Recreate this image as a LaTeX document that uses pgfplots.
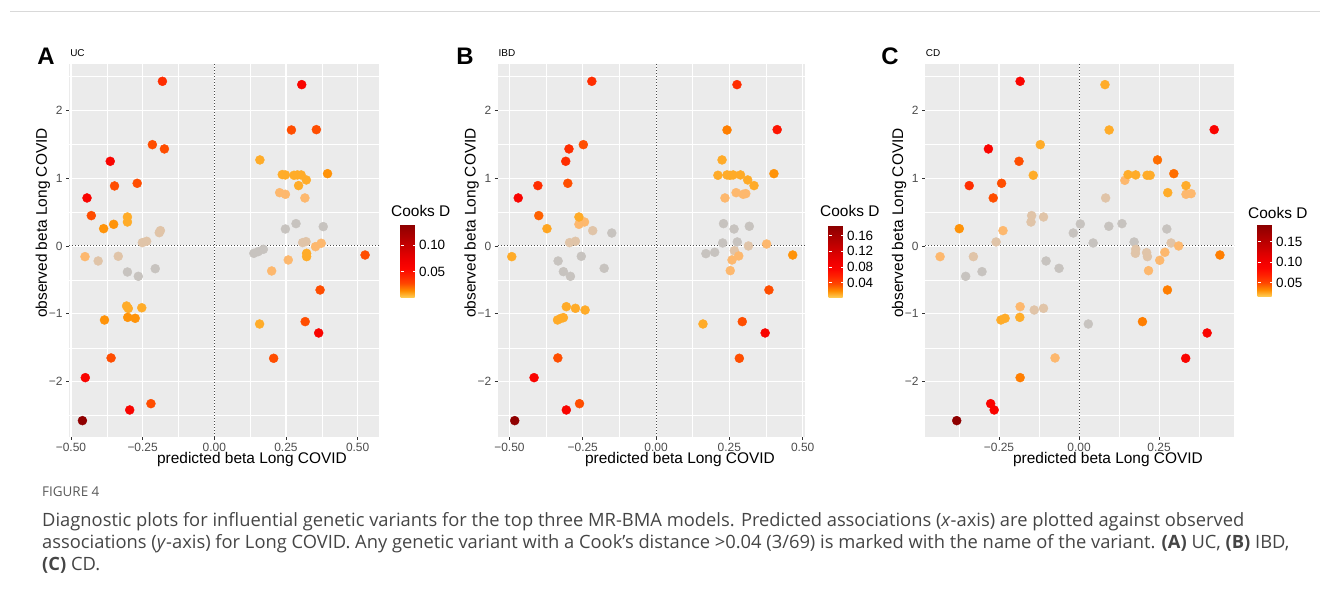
\documentclass[border=0pt]{standalone}
\usepackage{pgfplots}
\pgfplotsset{compat=1.18}
\usepackage{pgfplotstable}
\usepackage{fontspec}
\setmainfont{Liberation Sans}
\newfontfamily\capfont{Open Sans}
\definecolor{ggbg}{HTML}{EBEBEB}
\definecolor{gg20}{HTML}{333333}
\definecolor{gg30}{HTML}{4D4D4D}
\definecolor{ptG}{RGB}{199,195,191}
\definecolor{ptE}{RGB}{224,196,168}
\definecolor{ptP}{RGB}{253,184,110}
\definecolor{capgray}{HTML}{454545}

% ---------- data: x = predicted beta, y = observed beta, d = Cook's D ----------
\pgfplotstableread{
x y d
-0.181 2.425 0.038
0.305 2.376 0.059
0.269 1.708 0.0266
0.356 1.713 0.0266
-0.363 1.247 0.059
-0.216 1.492 0.0266
-0.174 1.429 0.0266
-0.348 0.884 0.0266
-0.269 0.923 0.0266
-0.444 0.707 0.059
-0.429 0.447 0.0266
-0.386 0.255 0.0126
-0.351 0.319 0.0126
-0.303 0.427 0.0077
-0.303 0.353 0.0077
0.159 1.267 0.0077
0.237 1.051 0.0077
0.248 1.046 0.0077
0.278 1.041 0.0077
0.290 1.046 0.0077
0.303 1.046 0.0077
0.321 0.972 0.0077
0.294 0.889 0.0077
0.395 1.065 0.0126
0.322 -0.108 0.0077
0.322 -0.157 0.0077
0.526 -0.133 0.0266
0.369 -0.648 0.0266
-0.306 -0.884 0.0077
-0.300 -0.920 0.0077
-0.253 -0.910 0.0077
-0.302 -1.051 0.0126
-0.276 -1.065 0.0126
-0.383 -1.090 0.0126
-0.360 -1.649 0.0266
-0.450 -1.939 0.059
-0.221 -2.322 0.0266
-0.295 -2.415 0.059
-0.460 -2.572 0.137
0.158 -1.149 0.0077
0.317 -1.114 0.0266
0.364 -1.281 0.059
0.207 -1.654 0.0266
}\tabA

\pgfplotstableread{
x y d
-0.219 2.425 0.05
0.276 2.376 0.05
0.242 1.708 0.022
0.413 1.713 0.065
-0.297 1.429 0.05
-0.248 1.492 0.035
-0.308 1.247 0.05
-0.403 0.889 0.05
-0.301 0.923 0.035
-0.470 0.707 0.078
-0.400 0.447 0.03
-0.372 0.255 0.012
-0.263 0.427 0.0102
-0.492 -0.157 0.0102
0.225 1.267 0.0102
0.211 1.041 0.0102
0.242 1.046 0.0102
0.252 1.040 0.0102
0.263 1.046 0.0102
0.288 1.046 0.0102
0.3125 0.972 0.0102
0.334 0.889 0.0102
0.402 1.065 0.0167
0.466 -0.133 0.0167
-0.306 -0.894 0.0102
-0.275 -0.918 0.0102
-0.242 -0.943 0.0102
-0.336 -1.090 0.0102
-0.324 -1.065 0.0102
-0.316 -1.056 0.0102
-0.335 -1.649 0.035
-0.416 -1.939 0.078
-0.261 -2.322 0.035
-0.306 -2.415 0.078
-0.482 -2.572 0.181
0.385 -0.648 0.035
0.160 -1.149 0.0102
0.294 -1.114 0.035
0.372 -1.281 0.078
0.284 -1.654 0.035
}\tabB

\pgfplotstableread{
x y d
-0.184 2.425 0.0885
0.081 2.376 0.0246
0.094 1.708 0.0246
0.422 1.713 0.0885
-0.283 1.429 0.0885
-0.121 1.492 0.0246
-0.1875 1.247 0.048
-0.343 0.889 0.062
-0.242 0.923 0.048
-0.268 0.707 0.048
-0.143 1.041 0.0246
-0.374 0.255 0.0308
0.153 1.051 0.0246
0.177 1.046 0.0246
0.2125 1.041 0.0246
0.222 1.041 0.0246
0.245 1.267 0.040
0.296 1.065 0.040
0.334 0.889 0.0246
0.277 0.785 0.0246
0.440 -0.133 0.036
-0.244 -1.090 0.0246
-0.231 -1.065 0.0246
-0.185 -1.051 0.0246
-0.184 -1.939 0.036
-0.276 -2.322 0.0885
-0.265 -2.415 0.0885
-0.382 -2.572 0.1865
0.198 -1.114 0.036
0.400 -1.281 0.0885
0.333 -1.654 0.0885
0.276 -0.648 0.036
}\tabC

\pgfplotsset{
  colormap={cooks}{rgb255=(255,210,90) rgb255=(255,140,0) rgb255=(255,70,0) rgb255=(255,35,0) rgb255=(252,5,0) rgb255=(240,0,0) rgb255=(222,0,0) rgb255=(200,0,0) rgb255=(180,0,0) rgb255=(160,0,0) rgb255=(139,0,0)},
  gg/.style={
    scale only axis, height=373bp, anchor=south west,
    ymin=-2.813, ymax=2.680,
    ytick={-2,-1,0,1,2}, yticklabels={−2,−1,0,1,2},
    minor ytick={-2.5,-1.5,-0.5,0.5,1.5,2.5},
    minor xtick={-0.375,-0.125,0.125,0.375},
    axis background/.style={fill=ggbg},
    axis line style={draw=none},
    grid=both,
    major grid style={draw=white, line width=1.1bp},
    minor grid style={draw=white, line width=0.55bp},
    tick pos=left, tick align=outside,
    major tick length=3bp, minor tick length=0pt,
    tick style={draw=gg20, line width=0.8bp},
    ticklabel style={font=\fontsize{12}{14}\selectfont, text=gg30},
    colormap name=cooks,
    colorbar,
  },
  cb/.style={
    at={(parent axis.south east)}, anchor=south west,
    scale only axis, width=15bp,
    axis line style={draw=none},
    tick align=inside, major tick length=3bp,
    tick style={draw=white, line width=0.7bp},
    yticklabel style={font=\fontsize{13.5}{15}\selectfont, text=black},
  },
  gp/.style={only marks, mark=*, mark size=4.5bp, mark options={draw=#1, fill=#1}},
  sc/.style={scatter, only marks, mark=*, mark size=4.5bp, scatter src=explicit,
    scatter/use mapped color={draw=mapped color, fill=mapped color}},
  zl/.style={dash pattern=on 1.1bp off 1.9bp, line width=1bp, black!70},
}

\begin{document}
\begin{tikzpicture}[x=1bp,y=1bp]
\useasboundingbox (0,0) rectangle (1320,599);
\draw[black!15, line width=1bp] (10,587) -- (1320,587);

% ---------------- Panel A ----------------
\begin{axis}[gg, at={(69bp,162bp)}, width=310bp,
  xmin=-0.5068, xmax=0.5745,
  xtick={-0.5,-0.25,0,0.25,0.5}, xticklabels={−0.50,−0.25,0.00,0.25,0.50},
  point meta min=0, point meta max=0.14,
  colorbar style={cb, xshift=13bp, yshift=139bp, height=74bp,
    ytick={0.05,0.10}, yticklabels={0.05,0.10}}]
\addplot[zl] coordinates {(0,-2.813) (0,2.680)};
\addplot[zl] coordinates {(-0.5068,0) (0.5745,0)};
\addplot[gp=ptG] coordinates {(-0.303,-0.383) (-0.265,-0.447) (-0.206,-0.334) (0.248,0.250) (0.285,0.329) (0.380,0.285) (0.138,-0.108) (0.153,-0.083) (0.171,-0.049)};
\addplot[gp=ptE] coordinates {(-0.192,0.196) (-0.188,0.226) (-0.251,0.049) (-0.236,0.069) (-0.405,-0.221) (-0.335,-0.152) (0.308,0.049) (0.320,0.064)};
\addplot[gp=ptP] coordinates {(-0.451,-0.157) (0.228,0.785) (0.248,0.761) (0.316,0.707) (0.200,-0.368) (0.258,-0.206) (0.353,-0.010) (0.373,0.040)};
\addplot[sc] table[x=x, y=y, meta=d] {\tabA};
\end{axis}

% ---------------- Panel B ----------------
\begin{axis}[gg, at={(497.7bp,162bp)}, width=307.3bp,
  xmin=-0.540, xmax=0.508,
  xtick={-0.5,-0.25,0,0.25,0.5}, xticklabels={−0.50,−0.25,0.00,0.25,0.50},
  point meta min=0, point meta max=0.185,
  colorbar style={cb, xshift=15bp, yshift=139bp, height=72bp,
    ytick={0.04,0.08,0.12,0.16}, yticklabels={0.04,0.08,0.12,0.16}}]
\addplot[zl] coordinates {(0,-2.813) (0,2.680)};
\addplot[zl] coordinates {(-0.540,0) (0.508,0)};
\addplot[gp=ptG] coordinates {(-0.151,0.191) (-0.334,-0.221) (-0.255,-0.152) (-0.316,-0.378) (-0.292,-0.447) (-0.177,-0.329) (0.230,0.329) (0.266,0.250) (0.318,0.290) (0.227,0.044) (0.277,0.059) (0.170,-0.113) (0.200,-0.093)};
\addplot[gp=ptE] coordinates {(-0.216,0.226) (-0.295,0.049) (-0.275,0.069) (0.267,-0.069) (0.315,0.000)};
\addplot[gp=ptP] coordinates {(-0.263,0.319) (-0.244,0.353) (0.235,0.707) (0.273,0.785) (0.297,0.761) (0.306,0.771) (0.377,0.029) (0.282,-0.147) (0.259,-0.206) (0.253,-0.363)};
\addplot[sc] table[x=x, y=y, meta=d] {\tabB};
\end{axis}

% ---------------- Panel C ----------------
\begin{axis}[gg, at={(925bp,162bp)}, width=309bp,
  xmin=-0.481, xmax=0.484,
  xtick={-0.25,0,0.25}, xticklabels={−0.25,0.00,0.25},
  point meta min=0.015, point meta max=0.19,
  colorbar style={cb, xshift=15bp, yshift=140bp, height=72bp,
    ytick={0.05,0.10,0.15}, yticklabels={0.05,0.10,0.15}}]
\addplot[zl] coordinates {(0,-2.813) (0,2.680)};
\addplot[zl] coordinates {(-0.481,0) (0.484,0)};
\addplot[gp=ptG] coordinates {(-0.018,0.191) (0.004,0.324) (-0.354,-0.447) (-0.303,-0.378) (-0.103,-0.221) (-0.0625,-0.329) (0.044,0.044) (0.093,0.290) (0.134,0.329) (0.274,0.250) (0.172,0.059) (0.029,-1.149)};
\addplot[gp=ptE] coordinates {(-0.148,0.447) (-0.150,0.353) (-0.111,0.427) (-0.259,0.059) (-0.330,-0.157) (0.083,0.707) (0.177,-0.049) (0.176,-0.108) (0.211,-0.098) (0.2135,-0.157) (0.2875,0.044) (-0.140,-0.943) (-0.111,-0.918)};
\addplot[gp=ptP] coordinates {(-0.2375,0.226) (-0.434,-0.157) (0.143,0.967) (0.334,0.761) (0.350,0.771) (0.217,-0.363) (0.252,-0.211) (0.268,-0.093) (0.311,0.000) (-0.184,-0.894) (-0.075,-1.649)};
\addplot[sc] table[x=x, y=y, meta=d] {\tabC};
\end{axis}

% ---------------- labels ----------------
\begin{scope}[every node/.style={inner sep=0pt}]
\node[font=\fontsize{24}{26}\selectfont\bfseries] at (46,543) {A};
\node[font=\fontsize{10}{12}\selectfont] at (77.5,546) {UC};
\node[font=\fontsize{24}{26}\selectfont\bfseries] at (465,543) {B};
\node[font=\fontsize{10}{12}\selectfont] at (507,546) {IBD};
\node[font=\fontsize{24}{26}\selectfont\bfseries] at (890,543) {C};
\node[font=\fontsize{10}{12}\selectfont] at (933,546) {CD};

\node[rotate=90, font=\fontsize{15.5}{18}\selectfont] at (43,376) {observed beta Long COVID};
\node[rotate=90, font=\fontsize{15.5}{18}\selectfont] at (471.5,376) {observed beta Long COVID};
\node[rotate=90, font=\fontsize{15.5}{18}\selectfont] at (899,376) {observed beta Long COVID};

\node[font=\fontsize{15.5}{18}\selectfont] at (252,139) {predicted beta Long COVID};
\node[font=\fontsize{15.5}{18}\selectfont] at (680,139) {predicted beta Long COVID};
\node[font=\fontsize{15.5}{18}\selectfont] at (1108,139) {predicted beta Long COVID};

\node[anchor=west, font=\fontsize{15.5}{18}\selectfont] at (391,388) {Cooks D};
\node[anchor=west, font=\fontsize{15.5}{18}\selectfont] at (820,388) {Cooks D};
\node[anchor=west, font=\fontsize{15.5}{18}\selectfont] at (1248,386) {Cooks D};

\node[anchor=base west, font=\capfont\fontsize{13.5}{15}\selectfont, text=black!65] at (42,102) {FIGURE 4};
\node[anchor=base west, font=\capfont\fontsize{18.4}{21}\selectfont, text=capgray] at (42,72) {Diagnostic plots for influential genetic variants for the top three MR-BMA models. Predicted associations (\textit{x}-axis) are plotted against observed};
\node[anchor=base west, font=\capfont\fontsize{18.4}{21}\selectfont, text=capgray] at (42,50) {associations (\textit{y}-axis) for Long COVID. Any genetic variant with a Cook’s distance >0.04 (3/69) is marked with the name of the variant. \textbf{(A)} UC, \textbf{(B)} IBD,};
\node[anchor=base west, font=\capfont\fontsize{18.4}{21}\selectfont, text=capgray] at (42,28) {\textbf{(C)} CD.};
\end{scope}
\end{tikzpicture}
\end{document}
